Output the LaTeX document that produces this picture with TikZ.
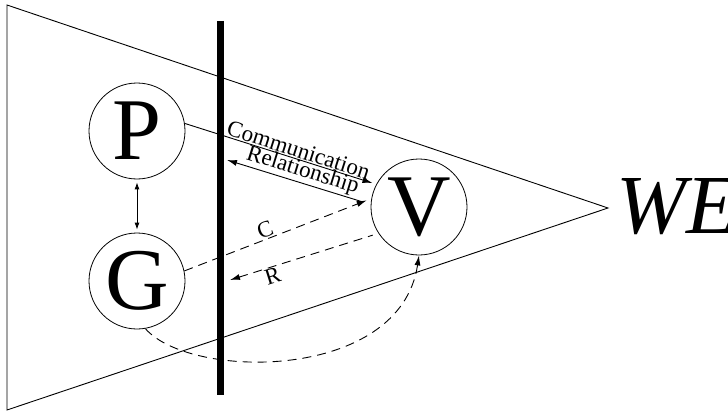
\documentclass[tikz,border=0pt]{standalone}
\usepackage{fontspec}
\setmainfont{Liberation Serif}
\usetikzlibrary{arrows.meta}
\begin{document}
\begin{tikzpicture}[x=1pt,y=-1pt,
  thin line/.style={line width=0.9pt},
  agent/.style={circle,draw,line width=0.8pt,minimum size=96pt,inner sep=0pt,
    font=\fontsize{88}{88}\selectfont},
  lbl/.style={font=\fontsize{23}{23}\selectfont,inner sep=1pt,sloped},
  tip/.style={-{Latex[length=10pt,width=6pt]}},
  dashline/.style={thin line,dash pattern=on 9pt off 6pt}]
\useasboundingbox (0,0) rectangle (728,412);
% triangle
\coordinate (t1) at (7,5);
\coordinate (apex) at (608,208);
\coordinate (t2) at (7,410);
\draw[thin line,line join=miter] (t1) -- (apex) -- (t2) -- cycle;
% bar
\coordinate (btop) at (220,21);
\coordinate (bbot) at (220,395);
\draw[line width=7pt] (btop) -- (bbot);
% agents
\node[agent] (P) at (137,131) {P};
\node[agent] (G) at (137,281) {G};
\node[agent] (V) at (419,207) {V};
\node[anchor=base west,inner sep=0pt,font=\fontsize{84}{84}\selectfont\itshape] (WE) at (616,233) {WE};
% P <-> G
\draw[thin line,{Latex[length=7pt,width=5pt]}-{Latex[length=7pt,width=5pt]},shorten <=3pt,shorten >=3pt] (P.south) -- (G.north);
% communication
\draw[thin line,tip,shorten >=4pt] (P.9) -- node[lbl,above,pos=0.58] {Communication} (V.152);
% relationship
\coordinate (reltip) at (227,160);
\coordinate (relend) at (363,202);
\draw[thin line,tip] (relend) -- node[lbl,above,pos=0.47] {Relationship} (reltip);
% C
\draw[dashline,tip,shorten >=5pt] (G.12) -- node[lbl,above,pos=0.45] {C} (V.170);
% R
\coordinate (rtip) at (230,280);
\draw[dashline,{Latex[length=10pt,width=6pt]}-,shorten >=6pt] (rtip) -- node[lbl,below,pos=0.27] {R} (V.213);
% curve
\draw[dashline,tip] (G.-80) .. controls (190,380) and (400,382) .. (V.south);
\end{tikzpicture}
\end{document}
